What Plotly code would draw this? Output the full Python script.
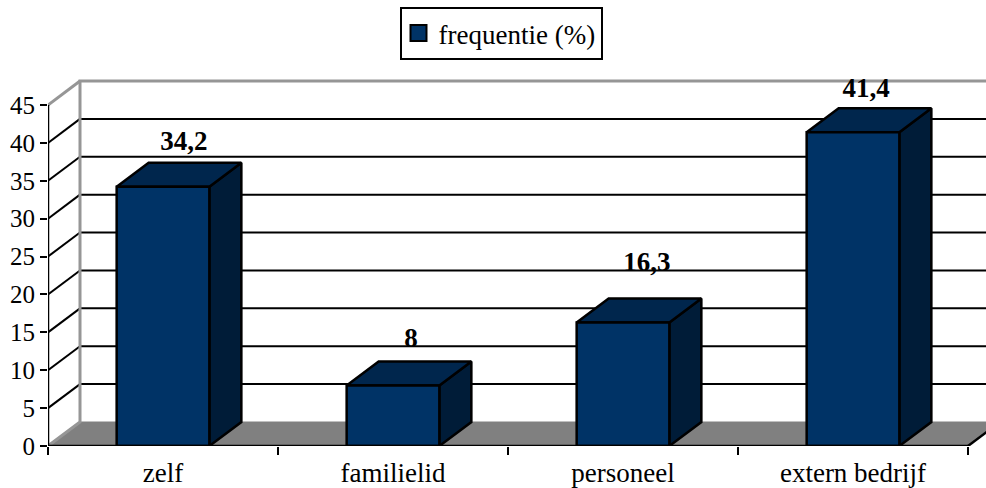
import plotly.graph_objects as go

categories = ["zelf", "familielid", "personeel", "extern bedrijf"]
values = [34.2, 8, 16.3, 41.4]
value_labels = ["34,2", "8", "16,3", "41,4"]
series_name = "frequentie (%)"
y_ticks = [0, 5, 10, 15, 20, 25, 30, 35, 40, 45]

# Drawing constants
W, H = 986, 488
L, B = 48, 42
PX_X = 230.0          # pixels per category
PX_Y = 341 / 45       # pixels per value unit
DX = 32 / PX_X        # 3D depth in category units
DY = 24 / PX_Y        # 3D depth in value units
BAR_W = 0.403
label_shift_x = [0.091, 0.078, 0.104, 0.057]
label_shift_y = [5.7, 6.0, 7.75, 5.6]
FONT = "Liberation Serif"
FS = 25
FS_WIDE = 27
FRONT, TOP, SIDE = "#003366", "#00264d", "#001c38"
GRAY, FLOOR = "#969696", "#808080"
N = len(categories)
YMAX = y_ticks[-1]


def poly(points_list):
    xs, ys = [], []
    for pts in points_list:
        for x, y in pts:
            xs.append(x)
            ys.append(y)
        xs.append(None)
        ys.append(None)
    return xs, ys


def add_lines(fig, segs, color, width):
    xs, ys = poly(segs)
    fig.add_trace(go.Scatter(x=xs, y=ys, mode="lines", showlegend=False, hoverinfo="skip",
                             line=dict(color=color, width=width)))


def add_faces(fig, polys, color, line_color="black", width=2.5):
    xs, ys = poly(polys)
    fig.add_trace(go.Scatter(x=xs, y=ys, mode="lines", fill="toself", fillcolor=color,
                             showlegend=False, hoverinfo="skip",
                             line=dict(color=line_color, width=width)))


fig = go.Figure()

# Floor
add_faces(fig, [[(0, 0), (DX, DY), (N + DX, DY), (N, 0), (0, 0)]], FLOOR, FLOOR, 1)

# Gridlines: back wall and left wall
grid = [t for t in y_ticks[1:-1]]
add_lines(fig, [[(DX, t + DY), (N + DX, t + DY)] for t in grid], "black", 2)
add_lines(fig, [[(0, t), (DX, t + DY)] for t in grid], "black", 2)

# Grey wall outline
add_lines(fig, [[(0, 0), (DX, DY), (DX, YMAX + DY), (N + DX, YMAX + DY)],
                [(0, YMAX), (DX, YMAX + DY)]], GRAY, 3)
add_lines(fig, [[(N, 0), (N + DX, DY)]], "black", 2.5)

# Bars
fronts, tops, sides = [], [], []
for i, v in enumerate(values):
    x0 = i + 0.5 - BAR_W / 2
    x1 = i + 0.5 + BAR_W / 2
    fronts.append([(x0, 0), (x0, v), (x1, v), (x1, 0), (x0, 0)])
    tops.append([(x0, v), (x0 + DX, v + DY), (x1 + DX, v + DY), (x1, v), (x0, v)])
    sides.append([(x1, 0), (x1, v), (x1 + DX, v + DY), (x1 + DX, DY), (x1, 0)])
add_faces(fig, sides, SIDE)
add_faces(fig, tops, TOP)
add_faces(fig, fronts, FRONT)

# Axis lines
add_lines(fig, [[(0, 0), (N, 0)], [(0, 0), (0, YMAX)]], "black", 2.5)

# Value labels
fig.add_trace(go.Scatter(
    x=[i + 0.5 + s for i, s in enumerate(label_shift_x)],
    y=[v + s for v, s in zip(values, label_shift_y)],
    text=value_labels, mode="text", textposition="middle center",
    textfont=dict(family=FONT, size=FS_WIDE, color="black", weight="bold"),
    showlegend=False, hoverinfo="skip", cliponaxis=False))

# Legend entry
fig.add_trace(go.Scatter(x=[None], y=[None], mode="markers", name=series_name,
                         marker=dict(symbol="square", size=16, color=FRONT,
                                     line=dict(color="black", width=2))))

fig.update_layout(
    width=W, height=H, margin=dict(l=L, r=0, t=0, b=B),
    paper_bgcolor="white", plot_bgcolor="white",
    font=dict(family=FONT, size=FS, color="black"),
    showlegend=True,
    legend=dict(x=(501 - L) / (W - L), y=1 - 33.5 / (H - B),
                xanchor="center", yanchor="middle", indentation=-3,
                bordercolor="black", borderwidth=2, bgcolor="white",
                font=dict(family=FONT, size=FS_WIDE), itemclick=False, itemdoubleclick=False),
    xaxis=dict(range=[0, (W - L) / PX_X], showgrid=False, zeroline=False, showline=False,
               automargin=False,
               tickmode="array", tickvals=[i + 0.5 for i in range(N)], ticktext=categories,
               ticks="", tickangle=0, tickfont=dict(family=FONT, size=FS_WIDE),
               ticklabelstandoff=8,
               minor=dict(tickmode="array", tickvals=list(range(N + 1)), ticks="outside",
                          ticklen=8, tickwidth=2, tickcolor="black", showgrid=False)),
    yaxis=dict(range=[0, (H - B) / PX_Y], showgrid=False, zeroline=False, showline=False,
               automargin=False,
               tickmode="array", tickvals=y_ticks, ticks="outside", ticklen=7, tickwidth=2,
               tickcolor="black", tickfont=dict(family=FONT, size=FS)),
)

fig.write_html("out.html", config={"displayModeBar": False},
               post_script="document.body.style.margin='0';")
